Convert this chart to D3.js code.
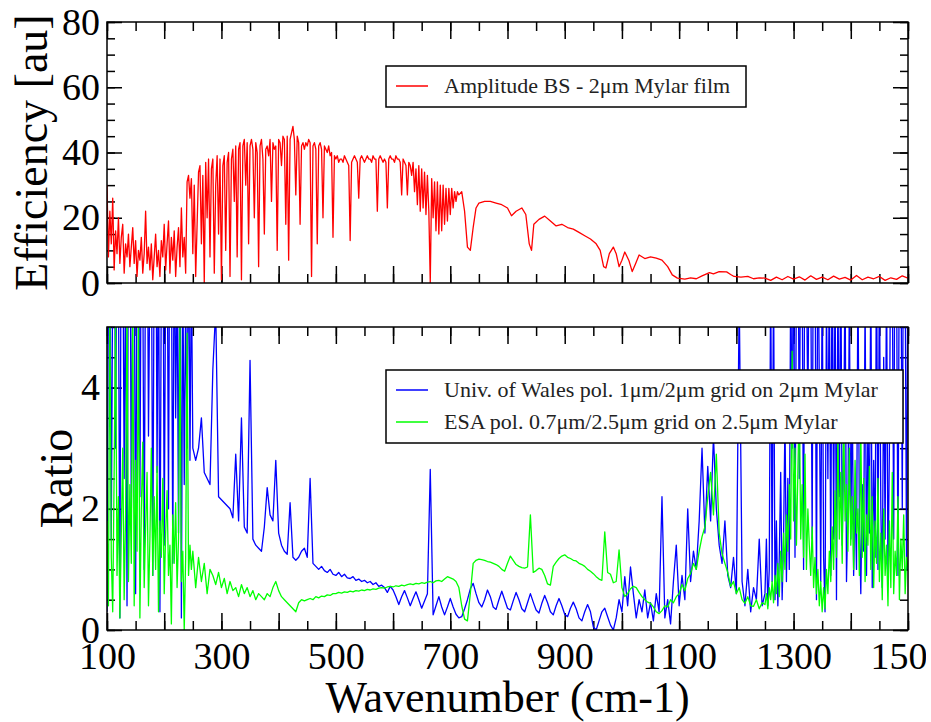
<!doctype html>
<html lang="en">
<head>
<meta charset="utf-8">
<title>Beam splitter efficiency and polariser ratio</title>
<style>
	body { margin: 0; background: white; }
	svg { display: block; font-family: "Liberation Serif", "DejaVu Serif", serif; }
	.frame { fill: none; stroke: black; stroke-width: 1.5px; }
	.axis path { display: none; }
	.axis line { stroke: black; stroke-width: 1.5px; }
	.axis text { font-family: "Liberation Serif", serif; font-size: 38px; fill: black; }
	.line { fill: none; stroke-width: 1.3px; stroke-linejoin: round; }
	.legend rect { fill: white; stroke: black; stroke-width: 1.5px; }
	.legend text { font-size: 22px; fill: #222; }
	.label { font-size: 46px; fill: black; }
</style>
</head>
<body>
<script src="https://cdnjs.cloudflare.com/ajax/libs/d3/7.8.5/d3.min.js"></script>
<script>
// ---- data ----
// top panel: [wavenumber, efficiency]
var amplitudeBS = [
	[100,30],[102.5,8],[105,22],[107.5,12],[110,26],[112.5,4],[115,16],[117.5,9],[120,20],[122.5,6],
	[125,14],[127.5,18],[130,3],[132.5,12],[135,8],[137.5,15],[140,5],[142.5,11],[145,17],[147.5,6],
	[150,13],[152.5,2],[155,10],[157.5,7],[160,14],[162.5,3],[165,9],[167.5,22],[170,6],[172.5,11],
	[175,4],[177.5,12],[180,1],[182.5,8],[185,15],[187.5,5],[190,10],[192.5,2],[195,13],[197.5,8],
	[200,18],[202.5,4],[205,12],[207.5,19],[210,3],[212.5,14],[215,7],[217.5,16],[220,2],[222.5,11],
	[225,17],[227.5,5],[230,23],[232.5,8],[235,14],[237.5,3],[240,31],[242.5,33],[245,26],[247.5,32],
	[250,9],[252.5,30],[255,2],[257.5,18],[260,34],[262.5,36],[265,12],[267.5,33],[270,0],[272.5,37],
	[275,20],[277.5,38],[280,8],[282.5,35],[285,38],[287.5,3],[290,30],[292.5,39],[295,15],[297.5,38],
	[300,1],[302.5,36],[305,39],[307.5,10],[310,37],[312.5,40],[315,2],[317.5,38],[320,41],[322.5,25],
	[325,42],[327.5,8],[330,41],[332.5,43],[335,1],[337.5,42],[340,44],[342.5,30],[345,43],[347.5,12],
	[350,42],[352.5,44],[355,41],[357.5,20],[360,43],[362.5,40],[365,5],[367.5,42],[370,44],[372.5,38],
	[375,15],[377.5,41],[380,42],[382.5,39],[385,44],[387.5,25],[390,43],[392.5,41],[395,42],[397.5,10],
	[400,44],[402.5,43],[405,36],[407.5,45],[410,44],[412.5,18],[415,45],[417.5,7],[420,44],[422.5,46],
	[425,48],[427.5,44],[430,27],[432.5,45],[435,43],[437.5,18],[440,42],[442.5,43],[445,41],[447.5,43],
	[450,42],[452.5,44],[455,43],[457.5,2],[460,42],[462.5,43],[465,41],[467.5,12],[470,42],[472.5,43],
	[475,41],[477.5,20],[480,42],[482.5,41],[485,40],[487.5,42],[490,39],[492.5,40],[495,14],[497.5,39],
	[500,38],[502.5,39],[505,37],[507.5,38],[510,38],[512.5,37],[515,39],[517.5,38],[520,37],[522.5,36],
	[525,13],[527.5,37],[530,38],[532.5,39],[535,38],[537.5,37],[540,26],[542.5,38],[545,39],[547.5,38],
	[550,37],[552.5,38],[555,39],[557.5,38],[560,38],[562.5,37],[565,39],[567.5,38],[570,38],[572.5,22],
	[575,38],[577.5,39],[580,38],[582.5,37],[585,38],[587.5,37],[590,23],[592.5,38],[595,39],[597.5,38],
	[600,38],[602.5,37],[605,39],[607.5,38],[610,38],[612.5,37],[615,27],[617.5,38],[620,37],[622.5,36],
	[625,27],[627.5,37],[630,36],[632.5,33],[635,37],[637.5,28],[640,35],[642.5,24],[645,36],[647.5,22],
	[650,35],[652.5,23],[655,34],[657.5,21],[660,33],[662.5,22],[665,0],[667.5,32],[670,20],[672.5,31],
	[675,16],[677.5,31],[680,15],[682.5,30],[685,16],[687.5,30],[690,18],[692.5,29],[695,19],[697.5,29],
	[700,21],[702.5,29],[705,23],[707.5,28],[710,25],[712.5,28],[715,27],[720,28],[725,22],[730,11],
	[735,10],[740,17],[745,23],
	[750,24.5],[760,25],[770,25],[780,24.5],[790,24],[800,23],[807,20.6],[815,22],[825,23],[832,21],
	[838,12],[842,10],[846,18],[855,19.5],[865,20.5],[875,19],[885,17.5],[895,18],[905,17],[915,16.5],
	[925,15.5],[935,14.5],[945,13.5],[955,12],[962,10],[968,5],[972,4.6],[978,9],[985,11],[990,9],
	[995,5],[1000,7],[1005,9.5],[1012,7],[1018,3.5],[1024,6],[1030,8.6],[1040,7.5],[1050,8],[1060,7.6],
	[1070,7],[1080,5],[1088,2.5],[1097,1.5],[1110,1.2],[1120,1.6],[1130,1.3],[1140,2.2],[1153,3.2],[1160,2.8],
	[1170,3.5],[1183,3.4],[1190,2.6],[1196,2],[1208,1.8],[1220,2],[1230,1.3],[1240,1.6],[1250,1.5],[1260,0.8],
	[1270,1.8],[1280,1.0],[1290,2.0],[1300,1.2],[1310,1.9],[1320,0.9],[1330,2.2],[1340,1.1],[1350,1.8],[1360,1.0],
	[1370,2.1],[1380,1.2],[1390,1.7],[1400,0.9],[1410,2.3],[1420,1.0],[1430,1.8],[1440,1.3],[1450,2.0],[1460,0.8],
	[1470,1.6],[1480,1.1],[1490,2.2],[1500,1.5]
];

// bottom panel sampling: every 2.5 cm-1 in the noisy ends, every 5 cm-1 in between
var ratioWavenumbers = d3.range(100, 250, 2.5)
	.concat(d3.range(250, 1250, 5))
	.concat(d3.range(1250, 1500.1, 2.5));

var walesRatio = [
	// 100 - 247.5
	0.3, 6, 7, 1.5, 6, 8, 3, 7, 6, 0.2,
	8, 7, 2.5, 6, 0.4, 7, 8, 1.8, 6, 7,
	0.6, 6.5, 8, 2.2, 7, 6, 1.0, 7, 8, 3.2,
	6, 7, 0.9, 6.5, 8, 2.6, 7, 0.3, 6, 8,
	1.4, 6, 7, 2.0, 8, 6.5, 1.1, 7, 3.5, 6,
	1.6, 8, 0.2, 6, 2.4, 5.5, 3.0, 7, 2.8, 6,
	// 250 - 1245
	3.0, 2.8, 3.0, 3.5, 2.6, 2.5, 2.4, 4.3, 5.3, 2.2,
	2.15, 2.1, 2.05, 2.0, 1.85, 2.9, 1.8, 3.5, 1.7, 1.6,
	4.45, 1.5, 1.4, 1.35, 1.3, 1.7, 2.35, 1.9, 1.8, 2.8,
	1.6, 1.4, 1.3, 1.25, 2.1, 1.2, 1.15, 1.2, 1.3, 1.35,
	1.2, 2.5, 1.1, 1.05, 1.0, 1.05, 0.98, 0.95, 1.0, 0.92,
	0.9, 0.95, 0.88, 0.92, 0.86, 0.85, 0.88, 0.82, 0.84, 0.8,
	0.82, 0.78, 0.8, 0.75, 0.78, 0.72, 0.74, 0.7, 0.62, 0.72,
	0.66, 0.55, 0.42, 0.55, 0.65, 0.53, 0.4, 0.52, 0.63, 0.5,
	0.36, 0.48, 0.6, 2.65, 0.25, 0.4, 0.55, 0.38, 0.25, 0.38,
	0.52, 0.38, 0.26, 0.2, 0.22, 0.35, 0.5, 0.68, 0.77, 0.6,
	0.45, 0.38, 0.5, 0.66, 0.55, 0.38, 0.34, 0.5, 0.64, 0.5,
	0.36, 0.33, 0.48, 0.62, 0.5, 0.35, 0.3, 0.45, 0.6, 0.46,
	0.33, 0.28, 0.44, 0.57, 0.45, 0.3, 0.25, 0.4, 0.52, 0.4,
	0.26, 0.22, 0.36, 0.46, 0.35, 0.2, 0.15, 0.3, 0.42, 0.3,
	0.05, 0.0, 0.15, 0.3, 0.36, 0.22, 0.08, 0.0, 0.2, 0.5,
	0.3, 0.88, 0.4, 1.04, 0.6, 0.2, 0.5, 0.3, 0.66, 0.2,
	0.45, 0.15, 0.6, 0.3, 2.2, 0.2, 0.5, 0.1, 0.8, 1.4,
	0.4, 0.9, 0.5, 2.0, 0.8, 1.3, 1.0, 1.8, 3.0, 1.6,
	2.7, 1.8, 3.2, 2.0, 1.4, 1.1, 1.8, 0.9, 0.7, 1.2,
	0.6, 5.5, 0.8, 0.4, 1.0, 0.3, 0.7, 0.5, 1.5, 0.4,
	// 1250 - 1500
	0.6, 1.5, 0.4, 1.0, 6, 0.8, 6, 0.5, 1.8, 0.4,
	1.2, 2.6, 0.5, 1.5, 3.5, 0.8, 2.5, 1.0, 6, 3.0,
	7, 1.2, 6, 8, 2.5, 7, 6, 1.0, 8, 6,
	3.5, 7, 6, 1.5, 8, 6.5, 0.5, 7, 4.0, 0.8,
	6, 1.2, 0.3, 5.5, 2.5, 6, 0.9, 7, 1.5, 6,
	0.5, 5.8, 2.2, 6.5, 1.4, 3.0, 6, 0.8, 2.0, 5.5,
	1.5, 4.0, 0.9, 2.2, 1.0, 6, 1.8, 0.6, 2.4, 1.3,
	5.5, 0.9, 3.5, 1.6, 6, 0.7, 2.8, 1.2, 6.5, 1.0,
	6, 2.0, 0.7, 4.5, 1.5, 6, 0.8, 3.0, 7, 6,
	1.5, 8, 6, 0.9, 7, 6.5, 2.0, 8, 6, 1.0,
	7
];

var esaRatio = [
	// 100 - 247.5
	1.8, 0.4, 5.5, 1.2, 0.3, 2.6, 5.2, 0.9, 2.2, 0.2,
	1.6, 3.0, 0.5, 1.9, 5.4, 0.8, 2.4, 1.1, 5.6, 0.4,
	2.8, 1.3, 5.3, 0.2, 2.0, 3.1, 0.7, 1.7, 2.6, 0.4,
	1.5, 3.0, 0.9, 2.2, 1.0, 2.7, 0.3, 1.8, 1.2, 2.5,
	0.6, 1.6, 2.3, 0.9, 1.4, 0.1, 1.9, 1.1, 2.1, 0.7,
	1.5, 5.1, 0.8, 1.3, 0.0, 1.2, 4.9, 0.9, 1.4, 1.0,
	// 250 - 1245
	1.3, 0.7, 1.2, 0.8, 1.1, 0.6, 1.0, 0.9, 0.75, 0.95,
	0.7, 0.85, 0.6, 0.8, 0.65, 0.7, 0.55, 0.75, 0.6, 0.7,
	0.55, 0.65, 0.5, 0.6, 0.55, 0.5, 0.6, 0.55, 0.7, 0.8,
	0.65, 0.55, 0.5, 0.45, 0.4, 0.35, 0.3, 0.45, 0.5, 0.48,
	0.5, 0.52, 0.5, 0.55, 0.53, 0.56, 0.55, 0.58, 0.57, 0.6,
	0.6, 0.62, 0.61, 0.63, 0.62, 0.64, 0.63, 0.65, 0.64, 0.66,
	0.65, 0.67, 0.66, 0.68, 0.67, 0.69, 0.7, 0.69, 0.71, 0.72,
	0.71, 0.73, 0.72, 0.74, 0.73, 0.75, 0.76, 0.75, 0.77, 0.76,
	0.78, 0.77, 0.79, 0.8, 0.78, 0.81, 0.82, 0.8, 0.84, 0.88,
	0.86, 0.84, 0.8, 0.7, 0.4, 0.18, 0.15, 0.6, 1.1, 1.15,
	1.17, 1.16, 1.15, 1.13, 1.12, 1.1, 1.08, 1.05, 1.0, 0.97,
	1.1, 1.22, 1.15, 1.08, 1.05, 1.03, 1.02, 1.04, 1.9, 0.95,
	0.98, 1.02, 1.0, 0.9, 0.76, 0.74, 1.05, 1.12, 1.18, 1.22,
	1.24, 1.2, 1.18, 1.15, 1.14, 1.1, 1.08, 1.05, 1.0, 0.97,
	0.93, 0.88, 0.84, 0.82, 1.62, 0.95, 0.92, 0.78, 0.8, 1.32,
	0.7, 0.55, 0.6, 0.68, 0.72, 0.7, 0.62, 0.55, 0.5, 0.46,
	0.44, 0.38, 0.3, 0.27, 0.32, 0.4, 0.38, 0.5, 0.45, 0.55,
	0.6, 0.75, 0.65, 0.85, 0.93, 1.1, 1.0, 1.3, 1.54, 1.7,
	2.2, 2.6, 1.9, 2.9, 1.6, 1.26, 1.1, 0.95, 0.72, 0.8,
	0.6, 0.7, 0.5, 0.44, 0.55, 0.4, 0.39, 0.5, 0.35, 0.45,
	// 1250 - 1500
	0.42, 0.6, 0.35, 0.7, 0.5, 0.8, 0.45, 0.9, 0.6, 1.1,
	0.55, 1.3, 0.8, 1.6, 1.0, 1.9, 1.3, 2.4, 1.5, 4.6,
	1.8, 3.0, 1.4, 2.6, 3.8, 1.5, 2.4, 1.2, 2.9, 1.0,
	2.0, 1.4, 0.9, 1.7, 0.7, 1.2, 0.6, 1.0, 0.4, 0.8,
	0.3, 0.7, 0.35, 1.0, 0.6, 1.3, 0.8, 1.7, 1.0, 2.3,
	1.2, 3.2, 1.5, 2.6, 1.1, 3.6, 1.8, 2.4, 1.3, 3.0,
	1.4, 2.2, 1.0, 2.8, 1.6, 2.0, 0.9, 3.3, 1.2, 2.5,
	0.8, 1.9, 1.4, 2.7, 1.0, 2.2, 0.7, 1.8, 1.1, 2.5,
	0.8, 1.6, 0.5, 2.0, 0.9, 1.4, 0.4, 1.8, 0.7, 2.6,
	0.6, 1.3, 0.9, 2.2, 0.5, 1.5, 1.0, 1.9, 0.6, 1.2,
	1.0
];

var xDomain = [100, 1500];
var xLabelTicks = [100, 300, 500, 700, 900, 1100, 1300, 1500];
var effTicks = [0, 20, 40, 60, 80];
var ratioTicks = [0, 2, 4];

var legendTop = ["Amplitude BS - 2\u03bcm Mylar film"];
var legendBottom = ["Univ. of Wales pol. 1\u03bcm/2\u03bcm grid on 2\u03bcm Mylar",
                    "ESA pol. 0.7\u03bcm/2.5\u03bcm grid on 2.5\u03bcm Mylar"];

// ---- layout ----
var left = 107, width = 801;
var topPanel = { top: 22, height: 261 };
var botPanel = { top: 327, height: 303 };

var svg = d3.select("body").append("svg")
	.attr("width", 926)
	.attr("height", 722);

var xScale = d3.scaleLinear().domain(xDomain).range([0, width]);

function panel(p, yDomain, majors, minorStep, id, showLabels) {
	var y = d3.scaleLinear().domain(yDomain).range([p.height, 0]);
	var g = svg.append("g").attr("transform", "translate(" + left + "," + p.top + ")");

	g.append("clipPath").attr("id", id)
		.append("rect").attr("width", width).attr("height", p.height);

	var xMinor = d3.range(xDomain[0], xDomain[1] + 1, 50);
	var xMajor = d3.range(xDomain[0], xDomain[1] + 1, 100);
	var yMinor = d3.range(yDomain[0], yDomain[1] + 0.001, minorStep);

	// minor ticks all round
	g.append("g").attr("class", "axis").attr("transform", "translate(0," + p.height + ")")
		.call(d3.axisBottom(xScale).tickValues(xMinor).tickSize(-9).tickFormat(""));
	g.append("g").attr("class", "axis")
		.call(d3.axisTop(xScale).tickValues(xMinor).tickSize(-9).tickFormat(""));
	g.append("g").attr("class", "axis")
		.call(d3.axisLeft(y).tickValues(yMinor).tickSize(-8).tickFormat(""));
	g.append("g").attr("class", "axis").attr("transform", "translate(" + width + ",0)")
		.call(d3.axisRight(y).tickValues(yMinor).tickSize(-8).tickFormat(""));

	// major ticks
	g.append("g").attr("class", "axis").attr("transform", "translate(0," + p.height + ")")
		.call(d3.axisBottom(xScale).tickValues(xMajor).tickSize(-17).tickPadding(12)
			.tickFormat(function(d) { return (showLabels && xLabelTicks.indexOf(d) >= 0) ? d : ""; }));
	g.append("g").attr("class", "axis")
		.call(d3.axisTop(xScale).tickValues(xMajor).tickSize(-17).tickFormat(""));
	g.append("g").attr("class", "axis")
		.call(d3.axisLeft(y).tickValues(majors).tickSize(-15).tickPadding(7).tickFormat(d3.format("d")));
	g.append("g").attr("class", "axis").attr("transform", "translate(" + width + ",0)")
		.call(d3.axisRight(y).tickValues(majors).tickSize(-15).tickFormat(""));

	var plot = g.append("g").attr("clip-path", "url(#" + id + ")");

	g.append("rect").attr("class", "frame").attr("width", width).attr("height", p.height);

	return { g: g, plot: plot, y: y };
}

// ---- top panel ----
var effPanel = panel(topPanel, [0, 80], effTicks, 5, "clipTop", false);
var lineTop = d3.line()
	.x(function(d) { return xScale(d[0]); })
	.y(function(d) { return effPanel.y(d[1]); });
effPanel.plot.append("path")
	.datum(amplitudeBS)
	.attr("class", "line")
	.attr("stroke", "#ff0000")
	.attr("d", lineTop);

// ---- bottom panel ----
var ratioPanel = panel(botPanel, [0, 5], ratioTicks, 0.5, "clipBot", true);
var lineBot = d3.line()
	.x(function(d) { return xScale(d[0]); })
	.y(function(d) { return ratioPanel.y(d[1]); });
var walesData = ratioWavenumbers.map(function(w, i) { return [w, walesRatio[i]]; });
var esaData = ratioWavenumbers.map(function(w, i) { return [w, esaRatio[i]]; });
ratioPanel.plot.append("path").datum(walesData)
	.attr("class", "line").attr("stroke", "#0000ff").attr("d", lineBot);
ratioPanel.plot.append("path").datum(esaData)
	.attr("class", "line").attr("stroke", "#00ff00").attr("d", lineBot);

// ---- legends ----
function legend(g, x, y, w, items, colors) {
	var lg = g.append("g").attr("class", "legend").attr("transform", "translate(" + x + "," + y + ")");
	lg.append("rect").attr("width", w).attr("height", 9 + items.length * 32);
	items.forEach(function(t, i) {
		var cy = 20 + i * 32;
		lg.append("line").attr("x1", 10).attr("x2", 42).attr("y1", cy).attr("y2", cy)
			.attr("stroke", colors[i]).attr("stroke-width", 1.5);
		lg.append("text").attr("x", 58).attr("y", cy + 7).text(t);
	});
}
legend(effPanel.g, 386 - left, 66 - topPanel.top, 360, legendTop, ["#ff0000"]);
legend(ratioPanel.g, 386 - left, 370 - botPanel.top, 517, legendBottom, ["#0000ff", "#00ff00"]);

// ---- axis titles ----
svg.append("text").attr("class", "label")
	.attr("text-anchor", "middle")
	.attr("transform", "translate(47," + (topPanel.top + topPanel.height / 2) + ") rotate(-90)")
	.text("Efficiency [au]");
svg.append("text").attr("class", "label")
	.attr("text-anchor", "middle")
	.attr("transform", "translate(72," + (botPanel.top + botPanel.height / 2) + ") rotate(-90)")
	.text("Ratio");
svg.append("text").attr("class", "label")
	.attr("text-anchor", "middle")
	.attr("x", left + width / 2)
	.attr("y", 712)
	.style("font-size", "44px")
	.text("Wavenumber (cm-1)");
</script>
</body>
</html>
